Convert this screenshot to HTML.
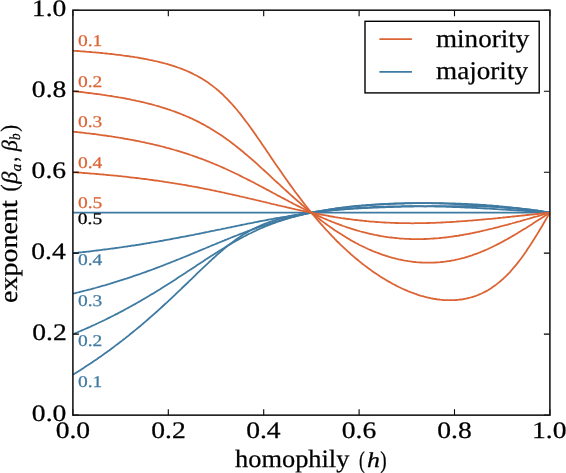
<!DOCTYPE html>
<html><head><meta charset="utf-8"><style>
html,body{margin:0;padding:0;background:#fff;}
body{width:566px;height:473px;overflow:hidden;}
svg{display:block;will-change:transform;filter:blur(0.3px);}
text{font-family:"Liberation Serif",serif;text-rendering:geometricPrecision;stroke:currentColor;stroke-width:0.25px;}
</style></head><body>
<svg width="566" height="473" viewBox="0 0 566 473">
<rect width="566" height="473" fill="#fff"/>
<g fill="none" stroke-width="1.8" stroke-linejoin="round">
<g stroke="#3e7aa2">
<path d="M72.9,374.7 74.5,373.7 76.1,372.7 77.7,371.7 79.3,370.7 80.9,369.7 82.4,368.7 84.0,367.7 85.6,366.6 87.2,365.6 88.8,364.5 90.4,363.5 92.0,362.4 93.6,361.3 95.2,360.3 96.8,359.2 98.3,358.1 99.9,357.0 101.5,355.9 103.1,354.7 104.7,353.6 106.3,352.5 107.9,351.3 109.5,350.2 111.1,349.0 112.7,347.8 114.2,346.6 115.8,345.4 117.4,344.2 119.0,343.0 120.6,341.8 122.2,340.6 123.8,339.3 125.4,338.1 127.0,336.8 128.6,335.6 130.1,334.3 131.7,333.0 133.3,331.7 134.9,330.4 136.5,329.1 138.1,327.8 139.7,326.5 141.3,325.1 142.9,323.8 144.5,322.4 146.0,321.1 147.6,319.7 149.2,318.3 150.8,316.9 152.4,315.5 154.0,314.1 155.6,312.7 157.2,311.3 158.8,309.8 160.4,308.4 161.9,307.0 163.5,305.5 165.1,304.0 166.7,302.6 168.3,301.1 169.9,299.6 171.5,298.1 173.1,296.6 174.7,295.1 176.2,293.6 177.8,292.1 179.4,290.6 181.0,289.1 182.6,287.5 184.2,286.0 185.8,284.5 187.4,283.0 189.0,281.4 190.6,279.9 192.2,278.3 193.7,276.8 195.3,275.3 196.9,273.7 198.5,272.2 200.1,270.7 201.7,269.2 203.3,267.6 204.9,266.1 206.5,264.6 208.1,263.1 209.6,261.6 211.2,260.2 212.8,258.7 214.4,257.3 216.0,255.8 217.6,254.4 219.2,253.0 220.8,251.6 222.4,250.3 224.0,248.9 225.5,247.6 227.1,246.3 228.7,245.0 230.3,243.8 231.9,242.6 233.5,241.4 235.1,240.2 236.7,239.1 238.3,238.0 239.9,236.9 241.4,235.8 243.0,234.8 244.6,233.8 246.2,232.9 247.8,231.9 249.4,231.0 251.0,230.2 252.6,229.3 254.2,228.5 255.8,227.7 257.3,227.0 258.9,226.3 260.5,225.5 262.1,224.9 263.7,224.2 265.3,223.6 266.9,223.0 268.5,222.4 270.1,221.8 271.6,221.3 273.2,220.8 274.8,220.3 276.4,219.8 278.0,219.3 279.6,218.9 281.2,218.5 282.8,218.1 284.4,217.7 286.0,217.3 287.6,216.9 289.1,216.5 290.7,216.2 292.3,215.9 293.9,215.5 295.5,215.2 297.1,214.9 298.7,214.7 300.3,214.4 301.9,214.1 303.5,213.8 305.0,213.6 306.6,213.4 308.2,213.1 309.8,212.9 311.4,212.7 313.0,212.5 314.6,212.3 316.2,212.1 317.8,211.9 319.4,211.7 320.9,211.5 322.5,211.3 324.1,211.1 325.7,211.0 327.3,210.8 328.9,210.7 330.5,210.5 332.1,210.4 333.7,210.2 335.2,210.1 336.8,210.0 338.4,209.8 340.0,209.7 341.6,209.6 343.2,209.5 344.8,209.3 346.4,209.2 348.0,209.1 349.6,209.0 351.1,208.9 352.7,208.8 354.3,208.7 355.9,208.6 357.5,208.5 359.1,208.4 360.7,208.3 362.3,208.2 363.9,208.2 365.5,208.1 367.1,208.0 368.6,207.9 370.2,207.9 371.8,207.8 373.4,207.7 375.0,207.6 376.6,207.6 378.2,207.5 379.8,207.4 381.4,207.4 383.0,207.3 384.5,207.3 386.1,207.2 387.7,207.2 389.3,207.1 390.9,207.0 392.5,207.0 394.1,206.9 395.7,206.9 397.3,206.9 398.9,206.8 400.4,206.8 402.0,206.7 403.6,206.7 405.2,206.6 406.8,206.6 408.4,206.6 410.0,206.5 411.6,206.5 413.2,206.5 414.8,206.4 416.3,206.4 417.9,206.4 419.5,206.4 421.1,206.3 422.7,206.3 424.3,206.3 425.9,206.3 427.5,206.2 429.1,206.2 430.6,206.2 432.2,206.2 433.8,206.2 435.4,206.2 437.0,206.2 438.6,206.1 440.2,206.1 441.8,206.1 443.4,206.1 445.0,206.1 446.6,206.1 448.1,206.1 449.7,206.1 451.3,206.1 452.9,206.1 454.5,206.1 456.1,206.1 457.7,206.1 459.3,206.1 460.9,206.1 462.5,206.2 464.0,206.2 465.6,206.2 467.2,206.2 468.8,206.2 470.4,206.2 472.0,206.3 473.6,206.3 475.2,206.3 476.8,206.3 478.4,206.4 479.9,206.4 481.5,206.5 483.1,206.5 484.7,206.5 486.3,206.6 487.9,206.6 489.5,206.7 491.1,206.7 492.7,206.8 494.2,206.9 495.8,206.9 497.4,207.0 499.0,207.1 500.6,207.2 502.2,207.2 503.8,207.3 505.4,207.4 507.0,207.5 508.6,207.6 510.2,207.7 511.7,207.8 513.3,207.9 514.9,208.1 516.5,208.2 518.1,208.3 519.7,208.5 521.3,208.6 522.9,208.8 524.5,208.9 526.1,209.1 527.6,209.3 529.2,209.5 530.8,209.7 532.4,209.9 534.0,210.1 535.6,210.3 537.2,210.5 538.8,210.8 540.4,211.0 542.0,211.3 543.5,211.5 545.1,211.8 546.7,212.1 548.3,212.4 549.9,212.7"/>
<path d="M72.9,334.2 74.5,333.5 76.1,332.9 77.7,332.2 79.3,331.5 80.9,330.8 82.4,330.2 84.0,329.5 85.6,328.8 87.2,328.1 88.8,327.4 90.4,326.7 92.0,325.9 93.6,325.2 95.2,324.5 96.8,323.7 98.3,323.0 99.9,322.2 101.5,321.5 103.1,320.7 104.7,320.0 106.3,319.2 107.9,318.4 109.5,317.6 111.1,316.8 112.7,316.0 114.2,315.2 115.8,314.4 117.4,313.6 119.0,312.7 120.6,311.9 122.2,311.1 123.8,310.2 125.4,309.3 127.0,308.5 128.6,307.6 130.1,306.7 131.7,305.9 133.3,305.0 134.9,304.1 136.5,303.2 138.1,302.3 139.7,301.4 141.3,300.4 142.9,299.5 144.5,298.6 146.0,297.7 147.6,296.7 149.2,295.8 150.8,294.8 152.4,293.9 154.0,292.9 155.6,291.9 157.2,290.9 158.8,290.0 160.4,289.0 161.9,288.0 163.5,287.0 165.1,286.0 166.7,285.0 168.3,284.0 169.9,283.0 171.5,281.9 173.1,280.9 174.7,279.9 176.2,278.9 177.8,277.8 179.4,276.8 181.0,275.8 182.6,274.7 184.2,273.7 185.8,272.7 187.4,271.6 189.0,270.6 190.6,269.5 192.2,268.5 193.7,267.4 195.3,266.4 196.9,265.3 198.5,264.3 200.1,263.2 201.7,262.2 203.3,261.2 204.9,260.1 206.5,259.1 208.1,258.0 209.6,257.0 211.2,256.0 212.8,255.0 214.4,254.0 216.0,252.9 217.6,251.9 219.2,250.9 220.8,250.0 222.4,249.0 224.0,248.0 225.5,247.0 227.1,246.1 228.7,245.1 230.3,244.2 231.9,243.2 233.5,242.3 235.1,241.4 236.7,240.5 238.3,239.6 239.9,238.7 241.4,237.9 243.0,237.0 244.6,236.2 246.2,235.4 247.8,234.5 249.4,233.7 251.0,233.0 252.6,232.2 254.2,231.4 255.8,230.7 257.3,229.9 258.9,229.2 260.5,228.5 262.1,227.8 263.7,227.2 265.3,226.5 266.9,225.8 268.5,225.2 270.1,224.6 271.6,224.0 273.2,223.4 274.8,222.8 276.4,222.2 278.0,221.7 279.6,221.1 281.2,220.6 282.8,220.1 284.4,219.6 286.0,219.1 287.6,218.6 289.1,218.1 290.7,217.7 292.3,217.2 293.9,216.8 295.5,216.4 297.1,216.0 298.7,215.6 300.3,215.2 301.9,214.8 303.5,214.4 305.0,214.0 306.6,213.7 308.2,213.3 309.8,213.0 311.4,212.7 313.0,212.4 314.6,212.0 316.2,211.7 317.8,211.4 319.4,211.2 320.9,210.9 322.5,210.6 324.1,210.3 325.7,210.1 327.3,209.8 328.9,209.6 330.5,209.3 332.1,209.1 333.7,208.9 335.2,208.7 336.8,208.4 338.4,208.2 340.0,208.0 341.6,207.8 343.2,207.6 344.8,207.5 346.4,207.3 348.0,207.1 349.6,206.9 351.1,206.8 352.7,206.6 354.3,206.4 355.9,206.3 357.5,206.1 359.1,206.0 360.7,205.9 362.3,205.7 363.9,205.6 365.5,205.5 367.1,205.3 368.6,205.2 370.2,205.1 371.8,205.0 373.4,204.9 375.0,204.8 376.6,204.7 378.2,204.6 379.8,204.5 381.4,204.4 383.0,204.3 384.5,204.2 386.1,204.1 387.7,204.1 389.3,204.0 390.9,203.9 392.5,203.9 394.1,203.8 395.7,203.7 397.3,203.7 398.9,203.6 400.4,203.6 402.0,203.5 403.6,203.5 405.2,203.4 406.8,203.4 408.4,203.3 410.0,203.3 411.6,203.3 413.2,203.2 414.8,203.2 416.3,203.2 417.9,203.2 419.5,203.2 421.1,203.1 422.7,203.1 424.3,203.1 425.9,203.1 427.5,203.1 429.1,203.1 430.6,203.1 432.2,203.1 433.8,203.1 435.4,203.1 437.0,203.2 438.6,203.2 440.2,203.2 441.8,203.2 443.4,203.2 445.0,203.3 446.6,203.3 448.1,203.3 449.7,203.4 451.3,203.4 452.9,203.5 454.5,203.5 456.1,203.6 457.7,203.6 459.3,203.7 460.9,203.7 462.5,203.8 464.0,203.9 465.6,203.9 467.2,204.0 468.8,204.1 470.4,204.2 472.0,204.2 473.6,204.3 475.2,204.4 476.8,204.5 478.4,204.6 479.9,204.7 481.5,204.8 483.1,204.9 484.7,205.0 486.3,205.1 487.9,205.3 489.5,205.4 491.1,205.5 492.7,205.6 494.2,205.8 495.8,205.9 497.4,206.0 499.0,206.2 500.6,206.3 502.2,206.5 503.8,206.6 505.4,206.8 507.0,207.0 508.6,207.1 510.2,207.3 511.7,207.5 513.3,207.7 514.9,207.8 516.5,208.0 518.1,208.2 519.7,208.4 521.3,208.6 522.9,208.8 524.5,209.0 526.1,209.2 527.6,209.4 529.2,209.6 530.8,209.8 532.4,210.1 534.0,210.3 535.6,210.5 537.2,210.7 538.8,211.0 540.4,211.2 542.0,211.4 543.5,211.7 545.1,211.9 546.7,212.2 548.3,212.4 549.9,212.7"/>
<path d="M72.9,293.7 74.5,293.3 76.1,292.9 77.7,292.5 79.3,292.1 80.9,291.7 82.4,291.3 84.0,290.9 85.6,290.5 87.2,290.1 88.8,289.7 90.4,289.3 92.0,288.8 93.6,288.4 95.2,288.0 96.8,287.5 98.3,287.1 99.9,286.6 101.5,286.2 103.1,285.7 104.7,285.3 106.3,284.8 107.9,284.3 109.5,283.9 111.1,283.4 112.7,282.9 114.2,282.4 115.8,281.9 117.4,281.4 119.0,280.9 120.6,280.4 122.2,279.9 123.8,279.4 125.4,278.9 127.0,278.4 128.6,277.8 130.1,277.3 131.7,276.8 133.3,276.2 134.9,275.7 136.5,275.2 138.1,274.6 139.7,274.1 141.3,273.5 142.9,272.9 144.5,272.4 146.0,271.8 147.6,271.2 149.2,270.6 150.8,270.1 152.4,269.5 154.0,268.9 155.6,268.3 157.2,267.7 158.8,267.1 160.4,266.5 161.9,265.9 163.5,265.3 165.1,264.6 166.7,264.0 168.3,263.4 169.9,262.8 171.5,262.1 173.1,261.5 174.7,260.9 176.2,260.2 177.8,259.6 179.4,259.0 181.0,258.3 182.6,257.7 184.2,257.0 185.8,256.4 187.4,255.7 189.0,255.1 190.6,254.4 192.2,253.7 193.7,253.1 195.3,252.4 196.9,251.8 198.5,251.1 200.1,250.4 201.7,249.8 203.3,249.1 204.9,248.5 206.5,247.8 208.1,247.1 209.6,246.5 211.2,245.8 212.8,245.1 214.4,244.5 216.0,243.8 217.6,243.2 219.2,242.5 220.8,241.9 222.4,241.2 224.0,240.6 225.5,239.9 227.1,239.3 228.7,238.6 230.3,238.0 231.9,237.3 233.5,236.7 235.1,236.1 236.7,235.5 238.3,234.8 239.9,234.2 241.4,233.6 243.0,233.0 244.6,232.4 246.2,231.8 247.8,231.2 249.4,230.6 251.0,230.0 252.6,229.4 254.2,228.9 255.8,228.3 257.3,227.7 258.9,227.2 260.5,226.6 262.1,226.1 263.7,225.6 265.3,225.0 266.9,224.5 268.5,224.0 270.1,223.5 271.6,223.0 273.2,222.5 274.8,222.0 276.4,221.5 278.0,221.0 279.6,220.6 281.2,220.1 282.8,219.6 284.4,219.2 286.0,218.7 287.6,218.3 289.1,217.9 290.7,217.5 292.3,217.1 293.9,216.7 295.5,216.3 297.1,215.9 298.7,215.5 300.3,215.1 301.9,214.7 303.5,214.4 305.0,214.0 306.6,213.7 308.2,213.3 309.8,213.0 311.4,212.7 313.0,212.4 314.6,212.0 316.2,211.7 317.8,211.4 319.4,211.1 320.9,210.9 322.5,210.6 324.1,210.3 325.7,210.0 327.3,209.8 328.9,209.5 330.5,209.3 332.1,209.0 333.7,208.8 335.2,208.5 336.8,208.3 338.4,208.1 340.0,207.9 341.6,207.7 343.2,207.5 344.8,207.3 346.4,207.1 348.0,206.9 349.6,206.7 351.1,206.5 352.7,206.4 354.3,206.2 355.9,206.0 357.5,205.9 359.1,205.7 360.7,205.6 362.3,205.4 363.9,205.3 365.5,205.2 367.1,205.0 368.6,204.9 370.2,204.8 371.8,204.7 373.4,204.6 375.0,204.4 376.6,204.3 378.2,204.3 379.8,204.2 381.4,204.1 383.0,204.0 384.5,203.9 386.1,203.8 387.7,203.8 389.3,203.7 390.9,203.6 392.5,203.6 394.1,203.5 395.7,203.5 397.3,203.4 398.9,203.4 400.4,203.3 402.0,203.3 403.6,203.3 405.2,203.2 406.8,203.2 408.4,203.2 410.0,203.2 411.6,203.1 413.2,203.1 414.8,203.1 416.3,203.1 417.9,203.1 419.5,203.1 421.1,203.1 422.7,203.1 424.3,203.2 425.9,203.2 427.5,203.2 429.1,203.2 430.6,203.2 432.2,203.3 433.8,203.3 435.4,203.3 437.0,203.4 438.6,203.4 440.2,203.5 441.8,203.5 443.4,203.6 445.0,203.6 446.6,203.7 448.1,203.7 449.7,203.8 451.3,203.9 452.9,203.9 454.5,204.0 456.1,204.1 457.7,204.2 459.3,204.2 460.9,204.3 462.5,204.4 464.0,204.5 465.6,204.6 467.2,204.7 468.8,204.8 470.4,204.9 472.0,205.0 473.6,205.1 475.2,205.2 476.8,205.3 478.4,205.4 479.9,205.6 481.5,205.7 483.1,205.8 484.7,205.9 486.3,206.1 487.9,206.2 489.5,206.3 491.1,206.5 492.7,206.6 494.2,206.7 495.8,206.9 497.4,207.0 499.0,207.2 500.6,207.3 502.2,207.4 503.8,207.6 505.4,207.8 507.0,207.9 508.6,208.1 510.2,208.2 511.7,208.4 513.3,208.5 514.9,208.7 516.5,208.9 518.1,209.0 519.7,209.2 521.3,209.4 522.9,209.6 524.5,209.7 526.1,209.9 527.6,210.1 529.2,210.3 530.8,210.4 532.4,210.6 534.0,210.8 535.6,211.0 537.2,211.2 538.8,211.3 540.4,211.5 542.0,211.7 543.5,211.9 545.1,212.1 546.7,212.3 548.3,212.5 549.9,212.7"/>
<path d="M72.9,253.2 74.5,253.0 76.1,252.8 77.7,252.7 79.3,252.5 80.9,252.3 82.4,252.2 84.0,252.0 85.6,251.8 87.2,251.6 88.8,251.5 90.4,251.3 92.0,251.1 93.6,250.9 95.2,250.7 96.8,250.5 98.3,250.3 99.9,250.1 101.5,249.9 103.1,249.7 104.7,249.5 106.3,249.3 107.9,249.1 109.5,248.9 111.1,248.7 112.7,248.5 114.2,248.3 115.8,248.0 117.4,247.8 119.0,247.6 120.6,247.4 122.2,247.2 123.8,246.9 125.4,246.7 127.0,246.5 128.6,246.2 130.1,246.0 131.7,245.7 133.3,245.5 134.9,245.3 136.5,245.0 138.1,244.8 139.7,244.5 141.3,244.3 142.9,244.0 144.5,243.7 146.0,243.5 147.6,243.2 149.2,243.0 150.8,242.7 152.4,242.4 154.0,242.2 155.6,241.9 157.2,241.6 158.8,241.3 160.4,241.0 161.9,240.8 163.5,240.5 165.1,240.2 166.7,239.9 168.3,239.6 169.9,239.3 171.5,239.0 173.1,238.7 174.7,238.4 176.2,238.1 177.8,237.8 179.4,237.5 181.0,237.2 182.6,236.9 184.2,236.6 185.8,236.3 187.4,236.0 189.0,235.7 190.6,235.4 192.2,235.1 193.7,234.8 195.3,234.4 196.9,234.1 198.5,233.8 200.1,233.5 201.7,233.2 203.3,232.8 204.9,232.5 206.5,232.2 208.1,231.9 209.6,231.5 211.2,231.2 212.8,230.9 214.4,230.6 216.0,230.2 217.6,229.9 219.2,229.6 220.8,229.3 222.4,228.9 224.0,228.6 225.5,228.3 227.1,227.9 228.7,227.6 230.3,227.3 231.9,227.0 233.5,226.6 235.1,226.3 236.7,226.0 238.3,225.6 239.9,225.3 241.4,225.0 243.0,224.7 244.6,224.4 246.2,224.0 247.8,223.7 249.4,223.4 251.0,223.1 252.6,222.8 254.2,222.4 255.8,222.1 257.3,221.8 258.9,221.5 260.5,221.2 262.1,220.9 263.7,220.6 265.3,220.3 266.9,220.0 268.5,219.7 270.1,219.4 271.6,219.1 273.2,218.8 274.8,218.5 276.4,218.2 278.0,217.9 279.6,217.7 281.2,217.4 282.8,217.1 284.4,216.8 286.0,216.6 287.6,216.3 289.1,216.0 290.7,215.8 292.3,215.5 293.9,215.3 295.5,215.0 297.1,214.8 298.7,214.5 300.3,214.3 301.9,214.0 303.5,213.8 305.0,213.6 306.6,213.3 308.2,213.1 309.8,212.9 311.4,212.7 313.0,212.5 314.6,212.3 316.2,212.0 317.8,211.8 319.4,211.6 320.9,211.4 322.5,211.3 324.1,211.1 325.7,210.9 327.3,210.7 328.9,210.5 330.5,210.3 332.1,210.2 333.7,210.0 335.2,209.8 336.8,209.7 338.4,209.5 340.0,209.4 341.6,209.2 343.2,209.1 344.8,208.9 346.4,208.8 348.0,208.7 349.6,208.6 351.1,208.4 352.7,208.3 354.3,208.2 355.9,208.1 357.5,208.0 359.1,207.9 360.7,207.8 362.3,207.7 363.9,207.6 365.5,207.5 367.1,207.4 368.6,207.3 370.2,207.2 371.8,207.1 373.4,207.0 375.0,207.0 376.6,206.9 378.2,206.8 379.8,206.8 381.4,206.7 383.0,206.7 384.5,206.6 386.1,206.6 387.7,206.5 389.3,206.5 390.9,206.4 392.5,206.4 394.1,206.4 395.7,206.3 397.3,206.3 398.9,206.3 400.4,206.3 402.0,206.2 403.6,206.2 405.2,206.2 406.8,206.2 408.4,206.2 410.0,206.2 411.6,206.2 413.2,206.2 414.8,206.2 416.3,206.2 417.9,206.2 419.5,206.2 421.1,206.2 422.7,206.2 424.3,206.3 425.9,206.3 427.5,206.3 429.1,206.3 430.6,206.4 432.2,206.4 433.8,206.4 435.4,206.5 437.0,206.5 438.6,206.5 440.2,206.6 441.8,206.6 443.4,206.7 445.0,206.7 446.6,206.8 448.1,206.8 449.7,206.9 451.3,206.9 452.9,207.0 454.5,207.0 456.1,207.1 457.7,207.2 459.3,207.2 460.9,207.3 462.5,207.4 464.0,207.4 465.6,207.5 467.2,207.6 468.8,207.6 470.4,207.7 472.0,207.8 473.6,207.9 475.2,207.9 476.8,208.0 478.4,208.1 479.9,208.2 481.5,208.3 483.1,208.4 484.7,208.5 486.3,208.5 487.9,208.6 489.5,208.7 491.1,208.8 492.7,208.9 494.2,209.0 495.8,209.1 497.4,209.2 499.0,209.3 500.6,209.4 502.2,209.5 503.8,209.6 505.4,209.7 507.0,209.8 508.6,209.9 510.2,210.0 511.7,210.1 513.3,210.2 514.9,210.3 516.5,210.4 518.1,210.5 519.7,210.6 521.3,210.7 522.9,210.8 524.5,210.9 526.1,211.0 527.6,211.1 529.2,211.2 530.8,211.3 532.4,211.5 534.0,211.6 535.6,211.7 537.2,211.8 538.8,211.9 540.4,212.0 542.0,212.1 543.5,212.2 545.1,212.3 546.7,212.5 548.3,212.6 549.9,212.7"/>
<path d="M72.9,212.7 74.5,212.7 76.1,212.7 77.7,212.7 79.3,212.7 80.9,212.7 82.4,212.7 84.0,212.7 85.6,212.7 87.2,212.7 88.8,212.7 90.4,212.7 92.0,212.7 93.6,212.7 95.2,212.7 96.8,212.7 98.3,212.7 99.9,212.7 101.5,212.7 103.1,212.7 104.7,212.7 106.3,212.7 107.9,212.7 109.5,212.7 111.1,212.7 112.7,212.7 114.2,212.7 115.8,212.7 117.4,212.7 119.0,212.7 120.6,212.7 122.2,212.7 123.8,212.7 125.4,212.7 127.0,212.7 128.6,212.7 130.1,212.7 131.7,212.7 133.3,212.7 134.9,212.7 136.5,212.7 138.1,212.7 139.7,212.7 141.3,212.7 142.9,212.7 144.5,212.7 146.0,212.7 147.6,212.7 149.2,212.7 150.8,212.7 152.4,212.7 154.0,212.7 155.6,212.7 157.2,212.7 158.8,212.7 160.4,212.7 161.9,212.7 163.5,212.7 165.1,212.7 166.7,212.7 168.3,212.7 169.9,212.7 171.5,212.7 173.1,212.7 174.7,212.7 176.2,212.7 177.8,212.7 179.4,212.7 181.0,212.7 182.6,212.7 184.2,212.7 185.8,212.7 187.4,212.7 189.0,212.7 190.6,212.7 192.2,212.7 193.7,212.7 195.3,212.7 196.9,212.7 198.5,212.7 200.1,212.7 201.7,212.7 203.3,212.7 204.9,212.7 206.5,212.7 208.1,212.7 209.6,212.7 211.2,212.7 212.8,212.7 214.4,212.7 216.0,212.7 217.6,212.7 219.2,212.7 220.8,212.7 222.4,212.7 224.0,212.7 225.5,212.7 227.1,212.7 228.7,212.7 230.3,212.7 231.9,212.7 233.5,212.7 235.1,212.7 236.7,212.7 238.3,212.7 239.9,212.7 241.4,212.7 243.0,212.7 244.6,212.7 246.2,212.7 247.8,212.7 249.4,212.7 251.0,212.7 252.6,212.7 254.2,212.7 255.8,212.7 257.3,212.7 258.9,212.7 260.5,212.7 262.1,212.7 263.7,212.7 265.3,212.7 266.9,212.7 268.5,212.7 270.1,212.7 271.6,212.7 273.2,212.7 274.8,212.7 276.4,212.7 278.0,212.7 279.6,212.7 281.2,212.7 282.8,212.7 284.4,212.7 286.0,212.7 287.6,212.7 289.1,212.7 290.7,212.7 292.3,212.7 293.9,212.7 295.5,212.7 297.1,212.7 298.7,212.7 300.3,212.7 301.9,212.7 303.5,212.7 305.0,212.7 306.6,212.7 308.2,212.7 309.8,212.7 311.4,212.7 313.0,212.7 314.6,212.7 316.2,212.7 317.8,212.7 319.4,212.7 320.9,212.7 322.5,212.7 324.1,212.7 325.7,212.7 327.3,212.7 328.9,212.7 330.5,212.7 332.1,212.7 333.7,212.7 335.2,212.7 336.8,212.7 338.4,212.7 340.0,212.7 341.6,212.7 343.2,212.7 344.8,212.7 346.4,212.7 348.0,212.7 349.6,212.7 351.1,212.7 352.7,212.7 354.3,212.7 355.9,212.7 357.5,212.7 359.1,212.7 360.7,212.7 362.3,212.7 363.9,212.7 365.5,212.7 367.1,212.7 368.6,212.7 370.2,212.7 371.8,212.7 373.4,212.7 375.0,212.7 376.6,212.7 378.2,212.7 379.8,212.7 381.4,212.7 383.0,212.7 384.5,212.7 386.1,212.7 387.7,212.7 389.3,212.7 390.9,212.7 392.5,212.7 394.1,212.7 395.7,212.7 397.3,212.7 398.9,212.7 400.4,212.7 402.0,212.7 403.6,212.7 405.2,212.7 406.8,212.7 408.4,212.7 410.0,212.7 411.6,212.7 413.2,212.7 414.8,212.7 416.3,212.7 417.9,212.7 419.5,212.7 421.1,212.7 422.7,212.7 424.3,212.7 425.9,212.7 427.5,212.7 429.1,212.7 430.6,212.7 432.2,212.7 433.8,212.7 435.4,212.7 437.0,212.7 438.6,212.7 440.2,212.7 441.8,212.7 443.4,212.7 445.0,212.7 446.6,212.7 448.1,212.7 449.7,212.7 451.3,212.7 452.9,212.7 454.5,212.7 456.1,212.7 457.7,212.7 459.3,212.7 460.9,212.7 462.5,212.7 464.0,212.7 465.6,212.7 467.2,212.7 468.8,212.7 470.4,212.7 472.0,212.7 473.6,212.7 475.2,212.7 476.8,212.7 478.4,212.7 479.9,212.7 481.5,212.7 483.1,212.7 484.7,212.7 486.3,212.7 487.9,212.7 489.5,212.7 491.1,212.7 492.7,212.7 494.2,212.7 495.8,212.7 497.4,212.7 499.0,212.7 500.6,212.7 502.2,212.7 503.8,212.7 505.4,212.7 507.0,212.7 508.6,212.7 510.2,212.7 511.7,212.7 513.3,212.7 514.9,212.7 516.5,212.7 518.1,212.7 519.7,212.7 521.3,212.7 522.9,212.7 524.5,212.7 526.1,212.7 527.6,212.7 529.2,212.7 530.8,212.7 532.4,212.7 534.0,212.7 535.6,212.7 537.2,212.7 538.8,212.7 540.4,212.7 542.0,212.7 543.5,212.7 545.1,212.7 546.7,212.7 548.3,212.7 549.9,212.7"/>
</g>
<g stroke="#dc6434">
<path d="M72.9,50.7 74.5,50.8 76.1,50.9 77.7,51.0 79.3,51.1 80.9,51.3 82.4,51.4 84.0,51.5 85.6,51.6 87.2,51.8 88.8,51.9 90.4,52.0 92.0,52.2 93.6,52.3 95.2,52.4 96.8,52.6 98.3,52.7 99.9,52.9 101.5,53.0 103.1,53.2 104.7,53.3 106.3,53.5 107.9,53.7 109.5,53.8 111.1,54.0 112.7,54.2 114.2,54.4 115.8,54.6 117.4,54.8 119.0,54.9 120.6,55.1 122.2,55.4 123.8,55.6 125.4,55.8 127.0,56.0 128.6,56.2 130.1,56.5 131.7,56.7 133.3,56.9 134.9,57.2 136.5,57.4 138.1,57.7 139.7,58.0 141.3,58.3 142.9,58.5 144.5,58.8 146.0,59.1 147.6,59.4 149.2,59.8 150.8,60.1 152.4,60.4 154.0,60.8 155.6,61.1 157.2,61.5 158.8,61.9 160.4,62.3 161.9,62.7 163.5,63.1 165.1,63.5 166.7,63.9 168.3,64.4 169.9,64.9 171.5,65.4 173.1,65.9 174.7,66.4 176.2,66.9 177.8,67.5 179.4,68.0 181.0,68.6 182.6,69.2 184.2,69.9 185.8,70.5 187.4,71.2 189.0,71.9 190.6,72.6 192.2,73.4 193.7,74.2 195.3,75.0 196.9,75.8 198.5,76.7 200.1,77.6 201.7,78.5 203.3,79.5 204.9,80.5 206.5,81.6 208.1,82.6 209.6,83.8 211.2,84.9 212.8,86.1 214.4,87.4 216.0,88.6 217.6,90.0 219.2,91.3 220.8,92.8 222.4,94.2 224.0,95.8 225.5,97.3 227.1,98.9 228.7,100.6 230.3,102.3 231.9,104.0 233.5,105.8 235.1,107.7 236.7,109.5 238.3,111.5 239.9,113.4 241.4,115.4 243.0,117.5 244.6,119.6 246.2,121.7 247.8,123.8 249.4,126.0 251.0,128.2 252.6,130.4 254.2,132.7 255.8,134.9 257.3,137.2 258.9,139.5 260.5,141.8 262.1,144.2 263.7,146.5 265.3,148.8 266.9,151.2 268.5,153.5 270.1,155.9 271.6,158.2 273.2,160.6 274.8,162.9 276.4,165.2 278.0,167.5 279.6,169.8 281.2,172.1 282.8,174.4 284.4,176.7 286.0,179.0 287.6,181.2 289.1,183.4 290.7,185.6 292.3,187.8 293.9,190.0 295.5,192.2 297.1,194.3 298.7,196.4 300.3,198.5 301.9,200.6 303.5,202.7 305.0,204.7 306.6,206.7 308.2,208.7 309.8,210.7 311.4,212.7 313.0,214.6 314.6,216.5 316.2,218.4 317.8,220.3 319.4,222.1 320.9,223.9 322.5,225.7 324.1,227.5 325.7,229.3 327.3,231.0 328.9,232.7 330.5,234.4 332.1,236.1 333.7,237.7 335.2,239.4 336.8,241.0 338.4,242.5 340.0,244.1 341.6,245.6 343.2,247.1 344.8,248.6 346.4,250.1 348.0,251.6 349.6,253.0 351.1,254.4 352.7,255.8 354.3,257.1 355.9,258.5 357.5,259.8 359.1,261.1 360.7,262.4 362.3,263.7 363.9,264.9 365.5,266.1 367.1,267.3 368.6,268.5 370.2,269.6 371.8,270.8 373.4,271.9 375.0,273.0 376.6,274.1 378.2,275.1 379.8,276.2 381.4,277.2 383.0,278.2 384.5,279.1 386.1,280.1 387.7,281.0 389.3,281.9 390.9,282.8 392.5,283.7 394.1,284.5 395.7,285.4 397.3,286.2 398.9,287.0 400.4,287.7 402.0,288.5 403.6,289.2 405.2,289.9 406.8,290.6 408.4,291.3 410.0,291.9 411.6,292.5 413.2,293.1 414.8,293.7 416.3,294.2 417.9,294.8 419.5,295.3 421.1,295.8 422.7,296.2 424.3,296.7 425.9,297.1 427.5,297.5 429.1,297.8 430.6,298.2 432.2,298.5 433.8,298.8 435.4,299.0 437.0,299.3 438.6,299.5 440.2,299.7 441.8,299.8 443.4,300.0 445.0,300.1 446.6,300.2 448.1,300.2 449.7,300.2 451.3,300.2 452.9,300.2 454.5,300.1 456.1,300.0 457.7,299.9 459.3,299.7 460.9,299.5 462.5,299.3 464.0,299.0 465.6,298.7 467.2,298.3 468.8,298.0 470.4,297.5 472.0,297.1 473.6,296.6 475.2,296.1 476.8,295.5 478.4,294.8 479.9,294.2 481.5,293.5 483.1,292.7 484.7,291.9 486.3,291.1 487.9,290.2 489.5,289.2 491.1,288.2 492.7,287.1 494.2,286.0 495.8,284.9 497.4,283.6 499.0,282.4 500.6,281.0 502.2,279.6 503.8,278.2 505.4,276.7 507.0,275.1 508.6,273.5 510.2,271.8 511.7,270.0 513.3,268.2 514.9,266.3 516.5,264.4 518.1,262.4 519.7,260.3 521.3,258.2 522.9,256.0 524.5,253.8 526.1,251.5 527.6,249.1 529.2,246.7 530.8,244.3 532.4,241.8 534.0,239.3 535.6,236.7 537.2,234.1 538.8,231.5 540.4,228.8 542.0,226.2 543.5,223.5 545.1,220.8 546.7,218.1 548.3,215.4 549.9,212.7"/>
<path d="M72.9,91.2 74.5,91.4 76.1,91.5 77.7,91.7 79.3,91.9 80.9,92.0 82.4,92.2 84.0,92.4 85.6,92.6 87.2,92.8 88.8,93.0 90.4,93.2 92.0,93.4 93.6,93.6 95.2,93.8 96.8,94.0 98.3,94.2 99.9,94.4 101.5,94.6 103.1,94.9 104.7,95.1 106.3,95.3 107.9,95.6 109.5,95.8 111.1,96.0 112.7,96.3 114.2,96.6 115.8,96.8 117.4,97.1 119.0,97.4 120.6,97.6 122.2,97.9 123.8,98.2 125.4,98.5 127.0,98.8 128.6,99.1 130.1,99.4 131.7,99.8 133.3,100.1 134.9,100.4 136.5,100.8 138.1,101.1 139.7,101.5 141.3,101.8 142.9,102.2 144.5,102.6 146.0,103.0 147.6,103.4 149.2,103.8 150.8,104.2 152.4,104.6 154.0,105.0 155.6,105.5 157.2,105.9 158.8,106.4 160.4,106.9 161.9,107.3 163.5,107.8 165.1,108.3 166.7,108.8 168.3,109.4 169.9,109.9 171.5,110.5 173.1,111.0 174.7,111.6 176.2,112.2 177.8,112.8 179.4,113.4 181.0,114.0 182.6,114.7 184.2,115.3 185.8,116.0 187.4,116.7 189.0,117.4 190.6,118.1 192.2,118.8 193.7,119.6 195.3,120.3 196.9,121.1 198.5,121.9 200.1,122.7 201.7,123.6 203.3,124.4 204.9,125.3 206.5,126.2 208.1,127.1 209.6,128.0 211.2,129.0 212.8,129.9 214.4,130.9 216.0,131.9 217.6,132.9 219.2,134.0 220.8,135.0 222.4,136.1 224.0,137.2 225.5,138.3 227.1,139.5 228.7,140.6 230.3,141.8 231.9,143.0 233.5,144.2 235.1,145.4 236.7,146.7 238.3,148.0 239.9,149.2 241.4,150.5 243.0,151.8 244.6,153.2 246.2,154.5 247.8,155.9 249.4,157.2 251.0,158.6 252.6,160.0 254.2,161.4 255.8,162.8 257.3,164.2 258.9,165.7 260.5,167.1 262.1,168.6 263.7,170.0 265.3,171.5 266.9,172.9 268.5,174.4 270.1,175.9 271.6,177.3 273.2,178.8 274.8,180.3 276.4,181.8 278.0,183.2 279.6,184.7 281.2,186.2 282.8,187.6 284.4,189.1 286.0,190.5 287.6,192.0 289.1,193.4 290.7,194.9 292.3,196.3 293.9,197.7 295.5,199.1 297.1,200.5 298.7,201.9 300.3,203.3 301.9,204.7 303.5,206.0 305.0,207.4 306.6,208.7 308.2,210.1 309.8,211.4 311.4,212.7 313.0,214.0 314.6,215.2 316.2,216.5 317.8,217.8 319.4,219.0 320.9,220.2 322.5,221.4 324.1,222.6 325.7,223.8 327.3,224.9 328.9,226.1 330.5,227.2 332.1,228.3 333.7,229.4 335.2,230.5 336.8,231.5 338.4,232.6 340.0,233.6 341.6,234.6 343.2,235.6 344.8,236.6 346.4,237.6 348.0,238.5 349.6,239.4 351.1,240.4 352.7,241.3 354.3,242.1 355.9,243.0 357.5,243.8 359.1,244.7 360.7,245.5 362.3,246.2 363.9,247.0 365.5,247.8 367.1,248.5 368.6,249.2 370.2,249.9 371.8,250.6 373.4,251.3 375.0,251.9 376.6,252.5 378.2,253.1 379.8,253.7 381.4,254.3 383.0,254.9 384.5,255.4 386.1,255.9 387.7,256.4 389.3,256.9 390.9,257.3 392.5,257.8 394.1,258.2 395.7,258.6 397.3,259.0 398.9,259.4 400.4,259.7 402.0,260.0 403.6,260.4 405.2,260.7 406.8,260.9 408.4,261.2 410.0,261.4 411.6,261.6 413.2,261.8 414.8,262.0 416.3,262.2 417.9,262.3 419.5,262.4 421.1,262.5 422.7,262.6 424.3,262.7 425.9,262.7 427.5,262.7 429.1,262.7 430.6,262.7 432.2,262.7 433.8,262.6 435.4,262.5 437.0,262.4 438.6,262.3 440.2,262.2 441.8,262.0 443.4,261.9 445.0,261.7 446.6,261.4 448.1,261.2 449.7,261.0 451.3,260.7 452.9,260.4 454.5,260.1 456.1,259.7 457.7,259.4 459.3,259.0 460.9,258.6 462.5,258.2 464.0,257.8 465.6,257.3 467.2,256.8 468.8,256.3 470.4,255.8 472.0,255.3 473.6,254.7 475.2,254.2 476.8,253.6 478.4,253.0 479.9,252.4 481.5,251.7 483.1,251.1 484.7,250.4 486.3,249.7 487.9,249.0 489.5,248.2 491.1,247.5 492.7,246.7 494.2,246.0 495.8,245.2 497.4,244.4 499.0,243.6 500.6,242.7 502.2,241.9 503.8,241.0 505.4,240.1 507.0,239.3 508.6,238.4 510.2,237.5 511.7,236.5 513.3,235.6 514.9,234.7 516.5,233.7 518.1,232.8 519.7,231.8 521.3,230.8 522.9,229.8 524.5,228.9 526.1,227.9 527.6,226.9 529.2,225.9 530.8,224.9 532.4,223.9 534.0,222.8 535.6,221.8 537.2,220.8 538.8,219.8 540.4,218.8 542.0,217.8 543.5,216.7 545.1,215.7 546.7,214.7 548.3,213.7 549.9,212.7"/>
<path d="M72.9,131.7 74.5,131.8 76.1,132.0 77.7,132.2 79.3,132.4 80.9,132.5 82.4,132.7 84.0,132.9 85.6,133.1 87.2,133.3 88.8,133.4 90.4,133.6 92.0,133.8 93.6,134.0 95.2,134.2 96.8,134.4 98.3,134.6 99.9,134.9 101.5,135.1 103.1,135.3 104.7,135.5 106.3,135.7 107.9,136.0 109.5,136.2 111.1,136.4 112.7,136.7 114.2,136.9 115.8,137.2 117.4,137.4 119.0,137.7 120.6,137.9 122.2,138.2 123.8,138.5 125.4,138.8 127.0,139.0 128.6,139.3 130.1,139.6 131.7,139.9 133.3,140.2 134.9,140.5 136.5,140.8 138.1,141.1 139.7,141.4 141.3,141.8 142.9,142.1 144.5,142.4 146.0,142.8 147.6,143.1 149.2,143.5 150.8,143.8 152.4,144.2 154.0,144.6 155.6,144.9 157.2,145.3 158.8,145.7 160.4,146.1 161.9,146.5 163.5,146.9 165.1,147.3 166.7,147.8 168.3,148.2 169.9,148.6 171.5,149.1 173.1,149.5 174.7,150.0 176.2,150.4 177.8,150.9 179.4,151.4 181.0,151.9 182.6,152.4 184.2,152.9 185.8,153.4 187.4,153.9 189.0,154.4 190.6,155.0 192.2,155.5 193.7,156.1 195.3,156.6 196.9,157.2 198.5,157.8 200.1,158.3 201.7,158.9 203.3,159.5 204.9,160.1 206.5,160.8 208.1,161.4 209.6,162.0 211.2,162.7 212.8,163.3 214.4,164.0 216.0,164.6 217.6,165.3 219.2,166.0 220.8,166.7 222.4,167.4 224.0,168.1 225.5,168.8 227.1,169.5 228.7,170.3 230.3,171.0 231.9,171.7 233.5,172.5 235.1,173.3 236.7,174.0 238.3,174.8 239.9,175.6 241.4,176.4 243.0,177.2 244.6,178.0 246.2,178.8 247.8,179.6 249.4,180.4 251.0,181.2 252.6,182.0 254.2,182.8 255.8,183.7 257.3,184.5 258.9,185.4 260.5,186.2 262.1,187.0 263.7,187.9 265.3,188.7 266.9,189.6 268.5,190.4 270.1,191.3 271.6,192.1 273.2,193.0 274.8,193.8 276.4,194.7 278.0,195.6 279.6,196.4 281.2,197.3 282.8,198.1 284.4,198.9 286.0,199.8 287.6,200.6 289.1,201.5 290.7,202.3 292.3,203.1 293.9,204.0 295.5,204.8 297.1,205.6 298.7,206.4 300.3,207.2 301.9,208.0 303.5,208.8 305.0,209.6 306.6,210.4 308.2,211.1 309.8,211.9 311.4,212.7 313.0,213.4 314.6,214.2 316.2,214.9 317.8,215.6 319.4,216.4 320.9,217.1 322.5,217.8 324.1,218.5 325.7,219.1 327.3,219.8 328.9,220.5 330.5,221.1 332.1,221.8 333.7,222.4 335.2,223.0 336.8,223.6 338.4,224.2 340.0,224.8 341.6,225.4 343.2,226.0 344.8,226.5 346.4,227.1 348.0,227.6 349.6,228.1 351.1,228.6 352.7,229.1 354.3,229.6 355.9,230.1 357.5,230.6 359.1,231.0 360.7,231.5 362.3,231.9 363.9,232.3 365.5,232.7 367.1,233.1 368.6,233.5 370.2,233.8 371.8,234.2 373.4,234.5 375.0,234.9 376.6,235.2 378.2,235.5 379.8,235.8 381.4,236.1 383.0,236.3 384.5,236.6 386.1,236.8 387.7,237.1 389.3,237.3 390.9,237.5 392.5,237.7 394.1,237.9 395.7,238.0 397.3,238.2 398.9,238.3 400.4,238.5 402.0,238.6 403.6,238.7 405.2,238.8 406.8,238.9 408.4,238.9 410.0,239.0 411.6,239.1 413.2,239.1 414.8,239.1 416.3,239.1 417.9,239.1 419.5,239.1 421.1,239.1 422.7,239.1 424.3,239.0 425.9,239.0 427.5,238.9 429.1,238.8 430.6,238.7 432.2,238.7 433.8,238.5 435.4,238.4 437.0,238.3 438.6,238.2 440.2,238.0 441.8,237.9 443.4,237.7 445.0,237.5 446.6,237.3 448.1,237.1 449.7,236.9 451.3,236.7 452.9,236.5 454.5,236.2 456.1,236.0 457.7,235.8 459.3,235.5 460.9,235.2 462.5,235.0 464.0,234.7 465.6,234.4 467.2,234.1 468.8,233.8 470.4,233.5 472.0,233.2 473.6,232.8 475.2,232.5 476.8,232.2 478.4,231.8 479.9,231.5 481.5,231.1 483.1,230.7 484.7,230.4 486.3,230.0 487.9,229.6 489.5,229.2 491.1,228.9 492.7,228.5 494.2,228.1 495.8,227.7 497.4,227.3 499.0,226.9 500.6,226.4 502.2,226.0 503.8,225.6 505.4,225.2 507.0,224.8 508.6,224.3 510.2,223.9 511.7,223.5 513.3,223.0 514.9,222.6 516.5,222.1 518.1,221.7 519.7,221.3 521.3,220.8 522.9,220.4 524.5,219.9 526.1,219.5 527.6,219.0 529.2,218.6 530.8,218.1 532.4,217.7 534.0,217.2 535.6,216.7 537.2,216.3 538.8,215.8 540.4,215.4 542.0,214.9 543.5,214.5 545.1,214.0 546.7,213.6 548.3,213.1 549.9,212.7"/>
<path d="M72.9,172.2 74.5,172.3 76.1,172.4 77.7,172.5 79.3,172.6 80.9,172.7 82.4,172.9 84.0,173.0 85.6,173.1 87.2,173.2 88.8,173.3 90.4,173.5 92.0,173.6 93.6,173.7 95.2,173.9 96.8,174.0 98.3,174.1 99.9,174.3 101.5,174.4 103.1,174.5 104.7,174.7 106.3,174.8 107.9,175.0 109.5,175.1 111.1,175.3 112.7,175.4 114.2,175.6 115.8,175.7 117.4,175.9 119.0,176.1 120.6,176.2 122.2,176.4 123.8,176.6 125.4,176.7 127.0,176.9 128.6,177.1 130.1,177.3 131.7,177.5 133.3,177.6 134.9,177.8 136.5,178.0 138.1,178.2 139.7,178.4 141.3,178.6 142.9,178.8 144.5,179.0 146.0,179.2 147.6,179.4 149.2,179.6 150.8,179.8 152.4,180.0 154.0,180.3 155.6,180.5 157.2,180.7 158.8,180.9 160.4,181.2 161.9,181.4 163.5,181.6 165.1,181.9 166.7,182.1 168.3,182.3 169.9,182.6 171.5,182.8 173.1,183.1 174.7,183.3 176.2,183.6 177.8,183.9 179.4,184.1 181.0,184.4 182.6,184.7 184.2,184.9 185.8,185.2 187.4,185.5 189.0,185.8 190.6,186.1 192.2,186.4 193.7,186.6 195.3,186.9 196.9,187.2 198.5,187.5 200.1,187.8 201.7,188.1 203.3,188.5 204.9,188.8 206.5,189.1 208.1,189.4 209.6,189.7 211.2,190.0 212.8,190.4 214.4,190.7 216.0,191.0 217.6,191.4 219.2,191.7 220.8,192.0 222.4,192.4 224.0,192.7 225.5,193.1 227.1,193.4 228.7,193.8 230.3,194.1 231.9,194.5 233.5,194.8 235.1,195.2 236.7,195.5 238.3,195.9 239.9,196.3 241.4,196.6 243.0,197.0 244.6,197.4 246.2,197.7 247.8,198.1 249.4,198.5 251.0,198.9 252.6,199.2 254.2,199.6 255.8,200.0 257.3,200.4 258.9,200.7 260.5,201.1 262.1,201.5 263.7,201.9 265.3,202.2 266.9,202.6 268.5,203.0 270.1,203.4 271.6,203.8 273.2,204.1 274.8,204.5 276.4,204.9 278.0,205.3 279.6,205.6 281.2,206.0 282.8,206.4 284.4,206.7 286.0,207.1 287.6,207.5 289.1,207.8 290.7,208.2 292.3,208.6 293.9,208.9 295.5,209.3 297.1,209.6 298.7,210.0 300.3,210.3 301.9,210.7 303.5,211.0 305.0,211.4 306.6,211.7 308.2,212.0 309.8,212.3 311.4,212.7 313.0,213.0 314.6,213.3 316.2,213.6 317.8,213.9 319.4,214.2 320.9,214.5 322.5,214.8 324.1,215.1 325.7,215.4 327.3,215.7 328.9,216.0 330.5,216.3 332.1,216.5 333.7,216.8 335.2,217.1 336.8,217.3 338.4,217.6 340.0,217.8 341.6,218.1 343.2,218.3 344.8,218.5 346.4,218.8 348.0,219.0 349.6,219.2 351.1,219.4 352.7,219.6 354.3,219.8 355.9,220.0 357.5,220.2 359.1,220.4 360.7,220.5 362.3,220.7 363.9,220.9 365.5,221.0 367.1,221.2 368.6,221.3 370.2,221.5 371.8,221.6 373.4,221.7 375.0,221.9 376.6,222.0 378.2,222.1 379.8,222.2 381.4,222.3 383.0,222.4 384.5,222.5 386.1,222.6 387.7,222.7 389.3,222.7 390.9,222.8 392.5,222.9 394.1,222.9 395.7,223.0 397.3,223.0 398.9,223.1 400.4,223.1 402.0,223.2 403.6,223.2 405.2,223.2 406.8,223.2 408.4,223.2 410.0,223.2 411.6,223.3 413.2,223.3 414.8,223.2 416.3,223.2 417.9,223.2 419.5,223.2 421.1,223.2 422.7,223.1 424.3,223.1 425.9,223.1 427.5,223.0 429.1,223.0 430.6,222.9 432.2,222.9 433.8,222.8 435.4,222.8 437.0,222.7 438.6,222.6 440.2,222.6 441.8,222.5 443.4,222.4 445.0,222.3 446.6,222.2 448.1,222.1 449.7,222.1 451.3,222.0 452.9,221.9 454.5,221.8 456.1,221.7 457.7,221.5 459.3,221.4 460.9,221.3 462.5,221.2 464.0,221.1 465.6,221.0 467.2,220.8 468.8,220.7 470.4,220.6 472.0,220.5 473.6,220.3 475.2,220.2 476.8,220.1 478.4,219.9 479.9,219.8 481.5,219.6 483.1,219.5 484.7,219.4 486.3,219.2 487.9,219.1 489.5,218.9 491.1,218.8 492.7,218.6 494.2,218.5 495.8,218.3 497.4,218.2 499.0,218.0 500.6,217.8 502.2,217.7 503.8,217.5 505.4,217.4 507.0,217.2 508.6,217.0 510.2,216.9 511.7,216.7 513.3,216.5 514.9,216.4 516.5,216.2 518.1,216.0 519.7,215.9 521.3,215.7 522.9,215.5 524.5,215.4 526.1,215.2 527.6,215.0 529.2,214.9 530.8,214.7 532.4,214.5 534.0,214.4 535.6,214.2 537.2,214.0 538.8,213.9 540.4,213.7 542.0,213.5 543.5,213.4 545.1,213.2 546.7,213.0 548.3,212.8 549.9,212.7"/>
</g>
</g>
<path d="M72.90,415.15V409.15M72.90,10.20V16.20M72.90,415.15H78.90M549.90,415.15H543.90M168.30,415.15V409.15M168.30,10.20V16.20M72.90,334.16H78.90M549.90,334.16H543.90M263.70,415.15V409.15M263.70,10.20V16.20M72.90,253.17H78.90M549.90,253.17H543.90M359.10,415.15V409.15M359.10,10.20V16.20M72.90,172.18H78.90M549.90,172.18H543.90M454.50,415.15V409.15M454.50,10.20V16.20M72.90,91.19H78.90M549.90,91.19H543.90M549.90,415.15V409.15M549.90,10.20V16.20M72.90,10.20H78.90M549.90,10.20H543.90" stroke="#000" stroke-width="1.1" fill="none"/>
<rect x="72.90" y="10.20" width="477.00" height="404.95" fill="none" stroke="#1a1a1a" stroke-width="1.6"/>
<rect x="365" y="21.3" width="174.2" height="71.6" fill="#fff" stroke="#000" stroke-width="1.4"/>
<path d="M379.4,39.2H411.9" stroke="#dc6434" stroke-width="1.8"/>
<path d="M379.4,71.9H411.9" stroke="#3e7aa2" stroke-width="1.8"/>
<text transform="translate(31.85,421.17) scale(1.1681,1)" font-size="23.63">0.0</text>
<text transform="translate(55.65,438.07) scale(1.1681,1)" font-size="23.63">0.0</text>
<text transform="translate(32.32,340.17) scale(1.1681,1)" font-size="23.63">0.2</text>
<text transform="translate(151.28,438.07) scale(1.1681,1)" font-size="23.63">0.2</text>
<text transform="translate(31.23,259.17) scale(1.1681,1)" font-size="23.63">0.4</text>
<text transform="translate(246.14,438.07) scale(1.1681,1)" font-size="23.63">0.4</text>
<text transform="translate(31.62,178.17) scale(1.1681,1)" font-size="23.63">0.6</text>
<text transform="translate(341.73,438.07) scale(1.1681,1)" font-size="23.63">0.6</text>
<text transform="translate(31.85,97.07) scale(1.1681,1)" font-size="23.63">0.8</text>
<text transform="translate(437.25,438.07) scale(1.1681,1)" font-size="23.63">0.8</text>
<text transform="translate(31.85,15.97) scale(1.1681,1)" font-size="23.63">1.0</text>
<text transform="translate(531.96,438.07) scale(1.1681,1)" font-size="23.63">1.0</text>
<text transform="translate(77.96,46.16) scale(1.1947,1)" font-size="16.34" fill="#dc6434" color="#dc6434">0.1</text>
<text transform="translate(77.96,86.66) scale(1.1947,1)" font-size="16.34" fill="#dc6434" color="#dc6434">0.2</text>
<text transform="translate(77.96,127.15) scale(1.1947,1)" font-size="16.34" fill="#dc6434" color="#dc6434">0.3</text>
<text transform="translate(77.96,167.65) scale(1.1947,1)" font-size="16.34" fill="#dc6434" color="#dc6434">0.4</text>
<text transform="translate(77.96,208.14) scale(1.1947,1)" font-size="16.34" fill="#dc6434" color="#dc6434">0.5</text>
<text transform="translate(77.96,386.62) scale(1.1947,1)" font-size="16.34" fill="#3e7aa2" color="#3e7aa2">0.1</text>
<text transform="translate(77.96,346.13) scale(1.1947,1)" font-size="16.34" fill="#3e7aa2" color="#3e7aa2">0.2</text>
<text transform="translate(77.96,305.63) scale(1.1947,1)" font-size="16.34" fill="#3e7aa2" color="#3e7aa2">0.3</text>
<text transform="translate(77.96,265.14) scale(1.1947,1)" font-size="16.34" fill="#3e7aa2" color="#3e7aa2">0.4</text>
<text transform="translate(77.76,224.07) scale(1.1947,1)" font-size="16.34">0.5</text>
<text transform="translate(436.03,46.50) scale(1.0620,1)" font-size="25.50">minority</text>
<text transform="translate(436.03,79.00) scale(1.0646,1)" font-size="25.50">majority</text>
<text transform="translate(235.04,467.10) scale(1.0556,1)" font-size="25.00">homophily</text>
<text transform="translate(358.93,468.08) scale(0.7288,1)" font-size="24.04">(</text>
<text transform="translate(366.97,466.90) scale(1.2181,1)" font-size="21.19" font-style="italic">h</text>
<text transform="translate(380.29,468.03) scale(0.7863,1)" font-size="24.26">)</text>
<g transform="translate(17.0,302.3) rotate(-90)">
<text transform="translate(-0.70,0.00) scale(1.1005,1)" font-size="25.50">exponent</text>
<text transform="translate(110.86,-0.45) scale(0.9031,1)" font-size="23.71">(</text>
<text transform="translate(118.49,-0.39) scale(1.1068,1)" font-size="22.03" font-style="italic">β</text>
<text transform="translate(130.75,3.55) scale(1.0334,1)" font-size="14.76" font-style="italic">a</text>
<text transform="translate(140.71,-0.41) scale(0.7510,1)" font-size="24.14">,</text>
<text transform="translate(151.06,-0.39) scale(1.0094,1)" font-size="22.03" font-style="italic">β</text>
<text transform="translate(162.31,3.25) scale(0.8664,1)" font-size="15.21" font-style="italic">b</text>
<text transform="translate(170.53,-0.45) scale(0.8703,1)" font-size="23.71">)</text>
</g>
</svg>
</body></html>
